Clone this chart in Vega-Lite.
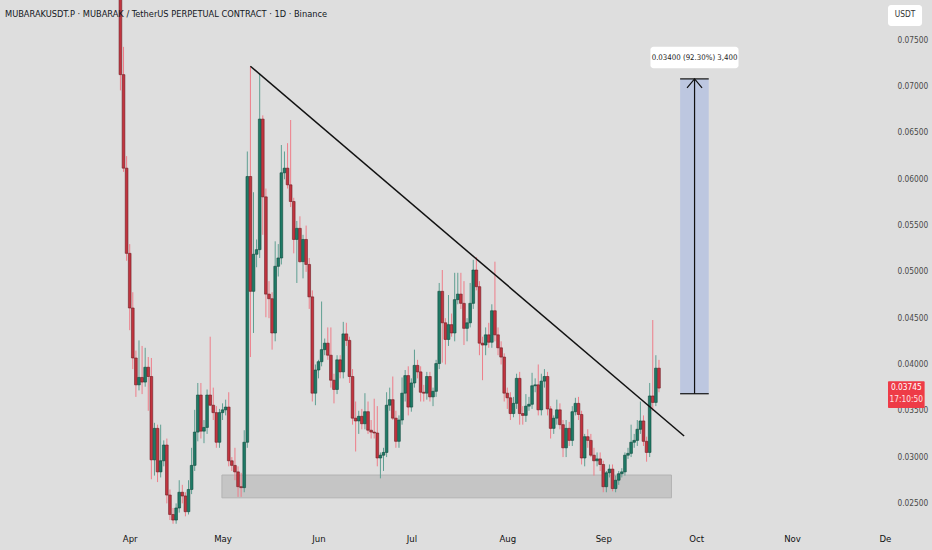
{
  "$schema": "https://vega.github.io/schema/vega-lite/v6.json",
  "width": 893,
  "height": 528,
  "autosize": "none",
  "padding": {"left": 0, "top": 0, "right": 39, "bottom": 22},
  "background": "#dedede",
  "config": {
    "view": {"stroke": null},
    "font": "DejaVu Sans Condensed, sans-serif"
  },
  "title": {
    "text": "MUBARAKUSDT.P · MUBARAK / TetherUS PERPETUAL CONTRACT · 1D · Binance",
    "anchor": "start",
    "frame": "group",
    "offset": -19,
    "dx": 5,
    "fontSize": 9.2,
    "fontWeight": "normal",
    "color": "#131722"
  },
  "datasets": {
    "candles": [
      {"d": "2025-03-29", "o": 0.0840, "h": 0.0890, "l": 0.0696, "c": 0.0713},
      {"d": "2025-03-30", "o": 0.0713, "h": 0.0743, "l": 0.0608, "c": 0.0612},
      {"d": "2025-03-31", "o": 0.0612, "h": 0.0625, "l": 0.0512, "c": 0.0520},
      {"d": "2025-04-01", "o": 0.0520, "h": 0.0530, "l": 0.0437, "c": 0.0461},
      {"d": "2025-04-02", "o": 0.0461, "h": 0.0478, "l": 0.0395, "c": 0.0407},
      {"d": "2025-04-03", "o": 0.0407, "h": 0.0415, "l": 0.0365, "c": 0.0378},
      {"d": "2025-04-04", "o": 0.0378, "h": 0.0426, "l": 0.0372, "c": 0.0386},
      {"d": "2025-04-05", "o": 0.0386, "h": 0.0420, "l": 0.0368, "c": 0.0381},
      {"d": "2025-04-06", "o": 0.0381, "h": 0.0418, "l": 0.0376, "c": 0.0397},
      {"d": "2025-04-07", "o": 0.0397, "h": 0.0408, "l": 0.0350, "c": 0.0387},
      {"d": "2025-04-08", "o": 0.0387, "h": 0.0407, "l": 0.0276, "c": 0.0297},
      {"d": "2025-04-09", "o": 0.0297, "h": 0.0337, "l": 0.0280, "c": 0.0331},
      {"d": "2025-04-10", "o": 0.0331, "h": 0.0335, "l": 0.0273, "c": 0.0284},
      {"d": "2025-04-11", "o": 0.0284, "h": 0.0335, "l": 0.0278, "c": 0.0296},
      {"d": "2025-04-12", "o": 0.0296, "h": 0.0318, "l": 0.0290, "c": 0.0313},
      {"d": "2025-04-13", "o": 0.0313, "h": 0.0320, "l": 0.0250, "c": 0.0259},
      {"d": "2025-04-14", "o": 0.0259, "h": 0.0265, "l": 0.0232, "c": 0.0238},
      {"d": "2025-04-15", "o": 0.0238, "h": 0.0245, "l": 0.0228, "c": 0.0232},
      {"d": "2025-04-16", "o": 0.0232, "h": 0.0250, "l": 0.0228, "c": 0.0245},
      {"d": "2025-04-17", "o": 0.0245, "h": 0.0275, "l": 0.0240, "c": 0.0262},
      {"d": "2025-04-18", "o": 0.0262, "h": 0.0270, "l": 0.0250, "c": 0.0258},
      {"d": "2025-04-19", "o": 0.0258, "h": 0.0262, "l": 0.0236, "c": 0.0241},
      {"d": "2025-04-20", "o": 0.0241, "h": 0.0275, "l": 0.0238, "c": 0.0265},
      {"d": "2025-04-21", "o": 0.0265, "h": 0.0310, "l": 0.0260, "c": 0.0291},
      {"d": "2025-04-22", "o": 0.0291, "h": 0.0351, "l": 0.0285, "c": 0.0327},
      {"d": "2025-04-23", "o": 0.0327, "h": 0.0380, "l": 0.0317, "c": 0.0367},
      {"d": "2025-04-24", "o": 0.0367, "h": 0.0380, "l": 0.0320, "c": 0.0328},
      {"d": "2025-04-25", "o": 0.0328, "h": 0.0340, "l": 0.0315, "c": 0.0332},
      {"d": "2025-04-26", "o": 0.0332, "h": 0.0373, "l": 0.0325, "c": 0.0367},
      {"d": "2025-04-27", "o": 0.0367, "h": 0.0430, "l": 0.0355, "c": 0.0356},
      {"d": "2025-04-28", "o": 0.0356, "h": 0.0375, "l": 0.0340, "c": 0.0348},
      {"d": "2025-04-29", "o": 0.0348, "h": 0.0355, "l": 0.0310, "c": 0.0316},
      {"d": "2025-04-30", "o": 0.0316, "h": 0.0352, "l": 0.0310, "c": 0.0348},
      {"d": "2025-05-01", "o": 0.0348, "h": 0.0358, "l": 0.0340, "c": 0.0351},
      {"d": "2025-05-02", "o": 0.0351, "h": 0.0362, "l": 0.0345, "c": 0.0354},
      {"d": "2025-05-03", "o": 0.0354, "h": 0.0370, "l": 0.0290, "c": 0.0296},
      {"d": "2025-05-04", "o": 0.0296, "h": 0.0300, "l": 0.0285, "c": 0.0291},
      {"d": "2025-05-05", "o": 0.0291, "h": 0.0310, "l": 0.0275, "c": 0.0284},
      {"d": "2025-05-06", "o": 0.0284, "h": 0.0290, "l": 0.0257, "c": 0.0268},
      {"d": "2025-05-07", "o": 0.0268, "h": 0.0283, "l": 0.0257, "c": 0.0267},
      {"d": "2025-05-08", "o": 0.0267, "h": 0.0329, "l": 0.0262, "c": 0.0316},
      {"d": "2025-05-09", "o": 0.0316, "h": 0.0630, "l": 0.0310, "c": 0.0603},
      {"d": "2025-05-10", "o": 0.0603, "h": 0.0722, "l": 0.0408, "c": 0.0479},
      {"d": "2025-05-11", "o": 0.0479, "h": 0.0586, "l": 0.0434, "c": 0.0519},
      {"d": "2025-05-12", "o": 0.0519, "h": 0.0535, "l": 0.0505, "c": 0.0524},
      {"d": "2025-05-13", "o": 0.0524, "h": 0.0714, "l": 0.0515, "c": 0.0665},
      {"d": "2025-05-14", "o": 0.0665, "h": 0.0669, "l": 0.0540, "c": 0.0581},
      {"d": "2025-05-15", "o": 0.0581, "h": 0.0590, "l": 0.0451, "c": 0.0476},
      {"d": "2025-05-16", "o": 0.0476, "h": 0.0490, "l": 0.0450, "c": 0.0471},
      {"d": "2025-05-17", "o": 0.0471, "h": 0.0478, "l": 0.0416, "c": 0.0434},
      {"d": "2025-05-18", "o": 0.0434, "h": 0.0533, "l": 0.0425, "c": 0.0506},
      {"d": "2025-05-19", "o": 0.0506, "h": 0.0530, "l": 0.0495, "c": 0.0515},
      {"d": "2025-05-20", "o": 0.0515, "h": 0.0637, "l": 0.0508, "c": 0.0607},
      {"d": "2025-05-21", "o": 0.0607, "h": 0.0630, "l": 0.0600, "c": 0.0612},
      {"d": "2025-05-22", "o": 0.0612, "h": 0.0639, "l": 0.0590, "c": 0.0594},
      {"d": "2025-05-23", "o": 0.0594, "h": 0.0664, "l": 0.0570, "c": 0.0576},
      {"d": "2025-05-24", "o": 0.0576, "h": 0.0580, "l": 0.0520, "c": 0.0535},
      {"d": "2025-05-25", "o": 0.0535, "h": 0.0555, "l": 0.0488, "c": 0.0547},
      {"d": "2025-05-26", "o": 0.0547, "h": 0.0560, "l": 0.0510, "c": 0.0511},
      {"d": "2025-05-27", "o": 0.0511, "h": 0.0540, "l": 0.0493, "c": 0.0535},
      {"d": "2025-05-28", "o": 0.0535, "h": 0.0550, "l": 0.0500, "c": 0.0508},
      {"d": "2025-05-29", "o": 0.0508, "h": 0.0515, "l": 0.0460, "c": 0.0473},
      {"d": "2025-05-30", "o": 0.0473, "h": 0.0480, "l": 0.0360, "c": 0.0369},
      {"d": "2025-05-31", "o": 0.0369, "h": 0.0400, "l": 0.0356, "c": 0.0394},
      {"d": "2025-06-01", "o": 0.0394, "h": 0.0405, "l": 0.0385, "c": 0.0403},
      {"d": "2025-06-02", "o": 0.0403, "h": 0.0468, "l": 0.0398, "c": 0.0416},
      {"d": "2025-06-03", "o": 0.0416, "h": 0.0428, "l": 0.0410, "c": 0.0423},
      {"d": "2025-06-04", "o": 0.0423, "h": 0.0440, "l": 0.0405, "c": 0.0410},
      {"d": "2025-06-05", "o": 0.0410, "h": 0.0440, "l": 0.0375, "c": 0.0383},
      {"d": "2025-06-06", "o": 0.0383, "h": 0.0390, "l": 0.0358, "c": 0.0373},
      {"d": "2025-06-07", "o": 0.0373, "h": 0.0410, "l": 0.0368, "c": 0.0405},
      {"d": "2025-06-08", "o": 0.0405, "h": 0.0410, "l": 0.0385, "c": 0.0392},
      {"d": "2025-06-09", "o": 0.0392, "h": 0.0446, "l": 0.0385, "c": 0.0433},
      {"d": "2025-06-10", "o": 0.0433, "h": 0.0445, "l": 0.0420, "c": 0.0426},
      {"d": "2025-06-11", "o": 0.0426, "h": 0.0430, "l": 0.0380, "c": 0.0387},
      {"d": "2025-06-12", "o": 0.0387, "h": 0.0395, "l": 0.0335, "c": 0.0342},
      {"d": "2025-06-13", "o": 0.0342, "h": 0.0360, "l": 0.0306, "c": 0.0339},
      {"d": "2025-06-14", "o": 0.0339, "h": 0.0350, "l": 0.0325, "c": 0.0344},
      {"d": "2025-06-15", "o": 0.0344, "h": 0.0352, "l": 0.0330, "c": 0.0336},
      {"d": "2025-06-16", "o": 0.0336, "h": 0.0369, "l": 0.0330, "c": 0.0349},
      {"d": "2025-06-17", "o": 0.0349, "h": 0.0360, "l": 0.0325, "c": 0.0329},
      {"d": "2025-06-18", "o": 0.0329, "h": 0.0340, "l": 0.0320, "c": 0.0327},
      {"d": "2025-06-19", "o": 0.0327, "h": 0.0363, "l": 0.0320, "c": 0.0326},
      {"d": "2025-06-20", "o": 0.0326, "h": 0.0355, "l": 0.0290, "c": 0.0299},
      {"d": "2025-06-21", "o": 0.0299, "h": 0.0305, "l": 0.0277, "c": 0.0302},
      {"d": "2025-06-22", "o": 0.0302, "h": 0.0310, "l": 0.0285, "c": 0.0305},
      {"d": "2025-06-23", "o": 0.0305, "h": 0.0370, "l": 0.0300, "c": 0.0356},
      {"d": "2025-06-24", "o": 0.0356, "h": 0.0375, "l": 0.0350, "c": 0.0362},
      {"d": "2025-06-25", "o": 0.0362, "h": 0.0387, "l": 0.0340, "c": 0.0342},
      {"d": "2025-06-26", "o": 0.0342, "h": 0.0350, "l": 0.0310, "c": 0.0317},
      {"d": "2025-06-27", "o": 0.0317, "h": 0.0345, "l": 0.0310, "c": 0.0340},
      {"d": "2025-06-28", "o": 0.0340, "h": 0.0386, "l": 0.0335, "c": 0.0369},
      {"d": "2025-06-29", "o": 0.0369, "h": 0.0394, "l": 0.0360, "c": 0.0388},
      {"d": "2025-06-30", "o": 0.0388, "h": 0.0398, "l": 0.0345, "c": 0.0354},
      {"d": "2025-07-01", "o": 0.0354, "h": 0.0385, "l": 0.0349, "c": 0.0380},
      {"d": "2025-07-02", "o": 0.0380, "h": 0.0416, "l": 0.0375, "c": 0.0399},
      {"d": "2025-07-03", "o": 0.0399, "h": 0.0405, "l": 0.0385, "c": 0.0392},
      {"d": "2025-07-04", "o": 0.0392, "h": 0.0398, "l": 0.0360, "c": 0.0370},
      {"d": "2025-07-05", "o": 0.0370, "h": 0.0378, "l": 0.0360, "c": 0.0369},
      {"d": "2025-07-06", "o": 0.0369, "h": 0.0392, "l": 0.0362, "c": 0.0387},
      {"d": "2025-07-07", "o": 0.0387, "h": 0.0392, "l": 0.0360, "c": 0.0365},
      {"d": "2025-07-08", "o": 0.0365, "h": 0.0375, "l": 0.0355, "c": 0.0371},
      {"d": "2025-07-09", "o": 0.0371, "h": 0.0405, "l": 0.0365, "c": 0.0401},
      {"d": "2025-07-10", "o": 0.0401, "h": 0.0488, "l": 0.0395, "c": 0.0479},
      {"d": "2025-07-11", "o": 0.0479, "h": 0.0502, "l": 0.0402, "c": 0.0445},
      {"d": "2025-07-12", "o": 0.0445, "h": 0.0450, "l": 0.0400, "c": 0.0427},
      {"d": "2025-07-13", "o": 0.0427, "h": 0.0475, "l": 0.0420, "c": 0.0443},
      {"d": "2025-07-14", "o": 0.0443, "h": 0.0455, "l": 0.0430, "c": 0.0434},
      {"d": "2025-07-15", "o": 0.0434, "h": 0.0499, "l": 0.0425, "c": 0.0470},
      {"d": "2025-07-16", "o": 0.0470, "h": 0.0499, "l": 0.0465, "c": 0.0476},
      {"d": "2025-07-17", "o": 0.0476, "h": 0.0499, "l": 0.0460, "c": 0.0466},
      {"d": "2025-07-18", "o": 0.0466, "h": 0.0490, "l": 0.0421, "c": 0.0439},
      {"d": "2025-07-19", "o": 0.0439, "h": 0.0450, "l": 0.0425, "c": 0.0445},
      {"d": "2025-07-20", "o": 0.0445, "h": 0.0488, "l": 0.0440, "c": 0.0466},
      {"d": "2025-07-21", "o": 0.0466, "h": 0.0513, "l": 0.0460, "c": 0.0502},
      {"d": "2025-07-22", "o": 0.0502, "h": 0.0516, "l": 0.0480, "c": 0.0484},
      {"d": "2025-07-23", "o": 0.0484, "h": 0.0490, "l": 0.0410, "c": 0.0423},
      {"d": "2025-07-24", "o": 0.0423, "h": 0.0430, "l": 0.0383, "c": 0.0421},
      {"d": "2025-07-25", "o": 0.0421, "h": 0.0440, "l": 0.0410, "c": 0.0432},
      {"d": "2025-07-26", "o": 0.0432, "h": 0.0445, "l": 0.0418, "c": 0.0424},
      {"d": "2025-07-27", "o": 0.0424, "h": 0.0465, "l": 0.0418, "c": 0.0458},
      {"d": "2025-07-28", "o": 0.0458, "h": 0.0511, "l": 0.0425, "c": 0.0432},
      {"d": "2025-07-29", "o": 0.0432, "h": 0.0440, "l": 0.0410, "c": 0.0418},
      {"d": "2025-07-30", "o": 0.0418, "h": 0.0425, "l": 0.0400, "c": 0.0408},
      {"d": "2025-07-31", "o": 0.0408, "h": 0.0412, "l": 0.0360, "c": 0.0369},
      {"d": "2025-08-01", "o": 0.0369, "h": 0.0375, "l": 0.0352, "c": 0.0364},
      {"d": "2025-08-02", "o": 0.0364, "h": 0.0370, "l": 0.0340, "c": 0.0347},
      {"d": "2025-08-03", "o": 0.0347, "h": 0.0365, "l": 0.0343, "c": 0.0358},
      {"d": "2025-08-04", "o": 0.0358, "h": 0.0390, "l": 0.0352, "c": 0.0385},
      {"d": "2025-08-05", "o": 0.0385, "h": 0.0392, "l": 0.0335, "c": 0.0347},
      {"d": "2025-08-06", "o": 0.0347, "h": 0.0355, "l": 0.0335, "c": 0.0345},
      {"d": "2025-08-07", "o": 0.0345, "h": 0.0368, "l": 0.0338, "c": 0.0355},
      {"d": "2025-08-08", "o": 0.0355, "h": 0.0365, "l": 0.0350, "c": 0.0357},
      {"d": "2025-08-09", "o": 0.0357, "h": 0.0391, "l": 0.0352, "c": 0.0377},
      {"d": "2025-08-10", "o": 0.0377, "h": 0.0385, "l": 0.0370, "c": 0.0378},
      {"d": "2025-08-11", "o": 0.0378, "h": 0.0400, "l": 0.0345, "c": 0.0351},
      {"d": "2025-08-12", "o": 0.0351, "h": 0.0390, "l": 0.0345, "c": 0.0382},
      {"d": "2025-08-13", "o": 0.0382, "h": 0.0395, "l": 0.0375, "c": 0.0387},
      {"d": "2025-08-14", "o": 0.0387, "h": 0.0392, "l": 0.0345, "c": 0.0352},
      {"d": "2025-08-15", "o": 0.0352, "h": 0.0355, "l": 0.0320, "c": 0.0331},
      {"d": "2025-08-16", "o": 0.0331, "h": 0.0345, "l": 0.0325, "c": 0.0342},
      {"d": "2025-08-17", "o": 0.0342, "h": 0.0362, "l": 0.0335, "c": 0.0351},
      {"d": "2025-08-18", "o": 0.0351, "h": 0.0358, "l": 0.0330, "c": 0.0335},
      {"d": "2025-08-19", "o": 0.0335, "h": 0.0340, "l": 0.0300, "c": 0.0310},
      {"d": "2025-08-20", "o": 0.0310, "h": 0.0340, "l": 0.0300, "c": 0.0331},
      {"d": "2025-08-21", "o": 0.0331, "h": 0.0338, "l": 0.0312, "c": 0.0318},
      {"d": "2025-08-22", "o": 0.0318, "h": 0.0355, "l": 0.0312, "c": 0.0349},
      {"d": "2025-08-23", "o": 0.0349, "h": 0.0364, "l": 0.0345, "c": 0.0358},
      {"d": "2025-08-24", "o": 0.0358, "h": 0.0365, "l": 0.0340, "c": 0.0346},
      {"d": "2025-08-25", "o": 0.0346, "h": 0.0350, "l": 0.0292, "c": 0.0299},
      {"d": "2025-08-26", "o": 0.0299, "h": 0.0325, "l": 0.0290, "c": 0.0322},
      {"d": "2025-08-27", "o": 0.0322, "h": 0.0330, "l": 0.0310, "c": 0.0318},
      {"d": "2025-08-28", "o": 0.0318, "h": 0.0325, "l": 0.0300, "c": 0.0302},
      {"d": "2025-08-29", "o": 0.0302, "h": 0.0310, "l": 0.0280, "c": 0.0296},
      {"d": "2025-08-30", "o": 0.0296, "h": 0.0305, "l": 0.0290, "c": 0.0298},
      {"d": "2025-08-31", "o": 0.0298, "h": 0.0305, "l": 0.0285, "c": 0.0292},
      {"d": "2025-09-01", "o": 0.0292, "h": 0.0296, "l": 0.0262, "c": 0.0268},
      {"d": "2025-09-02", "o": 0.0268, "h": 0.0285, "l": 0.0262, "c": 0.0283},
      {"d": "2025-09-03", "o": 0.0283, "h": 0.0292, "l": 0.0278, "c": 0.0287},
      {"d": "2025-09-04", "o": 0.0287, "h": 0.0292, "l": 0.0263, "c": 0.0266},
      {"d": "2025-09-05", "o": 0.0266, "h": 0.0280, "l": 0.0262, "c": 0.0275},
      {"d": "2025-09-06", "o": 0.0275, "h": 0.0285, "l": 0.0270, "c": 0.0282},
      {"d": "2025-09-07", "o": 0.0282, "h": 0.0288, "l": 0.0278, "c": 0.0284},
      {"d": "2025-09-08", "o": 0.0284, "h": 0.0305, "l": 0.0280, "c": 0.0302},
      {"d": "2025-09-09", "o": 0.0302, "h": 0.0310, "l": 0.0298, "c": 0.0304},
      {"d": "2025-09-10", "o": 0.0304, "h": 0.0335, "l": 0.0300, "c": 0.0316},
      {"d": "2025-09-11", "o": 0.0316, "h": 0.0325, "l": 0.0310, "c": 0.0318},
      {"d": "2025-09-12", "o": 0.0318, "h": 0.0340, "l": 0.0312, "c": 0.0330},
      {"d": "2025-09-13", "o": 0.0330, "h": 0.0360, "l": 0.0325, "c": 0.0339},
      {"d": "2025-09-14", "o": 0.0339, "h": 0.0345, "l": 0.0312, "c": 0.0317},
      {"d": "2025-09-15", "o": 0.0317, "h": 0.0322, "l": 0.0295, "c": 0.0305},
      {"d": "2025-09-16", "o": 0.0305, "h": 0.0380, "l": 0.0300, "c": 0.0366},
      {"d": "2025-09-17", "o": 0.0366, "h": 0.0448, "l": 0.0350, "c": 0.0359},
      {"d": "2025-09-18", "o": 0.0359, "h": 0.0410, "l": 0.0355, "c": 0.0396},
      {"d": "2025-09-19", "o": 0.0396, "h": 0.0405, "l": 0.0370, "c": 0.03745}
    ],
    "support": [
      {"d": "2025-04-30T19:00:00Z", "d2": "2025-09-23T01:00:00Z", "lo": 0.0256, "hi": 0.02806}
    ],
    "trend": [
      {"d": "2025-05-10T00:00:00Z", "p": 0.0722},
      {"d": "2025-09-27T03:00:00Z", "p": 0.03227}
    ],
    "target": [
      {"d": "2025-09-25T20:00:00Z", "d2": "2025-10-05T02:00:00Z", "mid": "2025-09-30T12:00:00Z", "lo": 0.03684, "hi": 0.07084}
    ],
    "label": [
      {"d": "2025-09-16T06:00:00Z", "d2": "2025-10-14T17:00:00Z", "mid": "2025-09-30T12:00:00Z", "lo": 0.07198, "hi": 0.07432, "p": 0.07315, "t": "0.03400 (92.30%) 3,400"}
    ],
    "tag": [
      {"d": "2025-12-02T00:00:00Z", "d2": "2025-12-13T20:00:00Z", "mid": "2025-12-07T22:00:00Z", "lo": 0.0353, "hi": 0.0382, "p1": 0.03745, "p2": 0.03616, "t1": "0.03745", "t2": "17:10:50"}
    ],
    "unit": [
      {"d": "2025-12-02T00:00:00Z", "d2": "2025-12-13T00:00:00Z", "mid": "2025-12-07T12:00:00Z", "lo": 0.07655, "hi": 0.07882, "p": 0.07769, "t": "USDT"}
    ]
  },
  "layer": [
    {
      "data": {"name": "support"},
      "mark": {"type": "rect", "fill": "#c5c5c5", "stroke": "#b3b3b3", "strokeWidth": 1},
      "encoding": {
        "x": {
          "field": "d", "type": "temporal",
          "scale": {"type": "utc", "domain": [1739984400000, 1764633600000]},
          "axis": {
            "title": null, "grid": false, "ticks": false, "domain": false,
            "values": [1743465600000, 1746057600000, 1748736000000, 1751328000000, 1754006400000, 1756684800000, 1759276800000, 1761955200000, 1764547200000],
            "labelExpr": "utcmonth(datum.value) === 11 ? 'De' : utcFormat(datum.value, '%b')",
            "labelPadding": 5, "labelFontSize": 9.5, "labelColor": "#111111",
            "labelOverlap": false, "labelFlush": false
          }
        },
        "x2": {"field": "d2"},
        "y": {
          "field": "lo", "type": "quantitative",
          "scale": {"domain": [0.02234, 0.07936], "zero": false, "nice": false},
          "axis": {
            "orient": "right", "title": null, "grid": false, "ticks": false, "domain": false,
            "values": [0.025, 0.03, 0.035, 0.04, 0.045, 0.05, 0.055, 0.06, 0.065, 0.07, 0.075],
            "format": ".5f", "labelAlign": "left", "labelPadding": 4,
            "labelFontSize": 8.3, "labelColor": "#4a4a4a"
          }
        },
        "y2": {"field": "hi"}
      }
    },
    {
      "data": {"name": "candles"},
      "mark": {"type": "rule", "strokeWidth": 1, "clip": true},
      "encoding": {
        "x": {"field": "d", "type": "temporal", "scale": {"type": "utc", "domain": [1739984400000, 1764633600000]}},
        "y": {"field": "l", "type": "quantitative", "scale": {"domain": [0.02234, 0.07936], "zero": false, "nice": false}},
        "y2": {"field": "h"},
        "color": {"condition": {"test": "datum.c >= datum.o", "value": "#5f9f92"}, "value": "#ee7d89"}
      }
    },
    {
      "data": {"name": "candles"},
      "mark": {"type": "bar", "width": 2.7, "clip": true, "strokeWidth": 0.6},
      "encoding": {
        "x": {"field": "d", "type": "temporal", "scale": {"type": "utc", "domain": [1739984400000, 1764633600000]}},
        "y": {"field": "o", "type": "quantitative", "scale": {"domain": [0.02234, 0.07936], "zero": false, "nice": false}},
        "y2": {"field": "c"},
        "fill": {"condition": {"test": "datum.c >= datum.o", "value": "#1f7a66"}, "value": "#c2343f"},
        "stroke": {"condition": {"test": "datum.c >= datum.o", "value": "#0f4a3d"}, "value": "#6e1c23"}
      }
    },
    {
      "data": {"name": "trend"},
      "mark": {"type": "line", "color": "#111111", "strokeWidth": 1.5},
      "encoding": {
        "x": {"field": "d", "type": "temporal", "scale": {"type": "utc", "domain": [1739984400000, 1764633600000]}},
        "y": {"field": "p", "type": "quantitative", "scale": {"domain": [0.02234, 0.07936], "zero": false, "nice": false}}
      }
    },
    {
      "data": {"name": "target"},
      "mark": {"type": "rect", "fill": "#bdc7e0"},
      "encoding": {
        "x": {"field": "d", "type": "temporal", "scale": {"type": "utc", "domain": [1739984400000, 1764633600000]}},
        "x2": {"field": "d2"},
        "y": {"field": "lo", "type": "quantitative", "scale": {"domain": [0.02234, 0.07936], "zero": false, "nice": false}},
        "y2": {"field": "hi"}
      }
    },
    {
      "data": {"name": "target"},
      "mark": {"type": "rule", "color": "#111111", "strokeWidth": 1.2},
      "encoding": {
        "x": {"field": "d", "type": "temporal"},
        "x2": {"field": "d2"},
        "y": {"field": "lo", "type": "quantitative"}
      }
    },
    {
      "data": {"name": "target"},
      "mark": {"type": "rule", "color": "#111111", "strokeWidth": 1.2},
      "encoding": {
        "x": {"field": "d", "type": "temporal"},
        "x2": {"field": "d2"},
        "y": {"field": "hi", "type": "quantitative"}
      }
    },
    {
      "data": {"name": "target"},
      "mark": {"type": "rule", "color": "#111111", "strokeWidth": 1.2},
      "encoding": {
        "x": {"field": "mid", "type": "temporal"},
        "y": {"field": "lo", "type": "quantitative"},
        "y2": {"field": "hi"}
      }
    },
    {
      "data": {"name": "target"},
      "mark": {"type": "point", "shape": "M-1,0.6L0,-0.6L1,0.6", "size": 225, "filled": false, "stroke": "#111111", "strokeWidth": 1.2, "opacity": 1, "yOffset": 4.5},
      "encoding": {
        "x": {"field": "mid", "type": "temporal"},
        "y": {"field": "hi", "type": "quantitative"}
      }
    },
    {
      "data": {"name": "label"},
      "mark": {"type": "rect", "fill": "#ffffff", "cornerRadius": 3},
      "encoding": {
        "x": {"field": "d", "type": "temporal"},
        "x2": {"field": "d2"},
        "y": {"field": "lo", "type": "quantitative"},
        "y2": {"field": "hi"}
      }
    },
    {
      "data": {"name": "label"},
      "mark": {"type": "text", "fontSize": 7.8, "color": "#1a1a1a", "align": "center", "baseline": "middle"},
      "encoding": {
        "x": {"field": "mid", "type": "temporal"},
        "y": {"field": "p", "type": "quantitative"},
        "text": {"field": "t"}
      }
    },
    {
      "data": {"name": "tag"},
      "mark": {"type": "rect", "fill": "#ee3b47", "cornerRadius": 1},
      "encoding": {
        "x": {"field": "d", "type": "temporal"},
        "x2": {"field": "d2"},
        "y": {"field": "lo", "type": "quantitative"},
        "y2": {"field": "hi"}
      }
    },
    {
      "data": {"name": "tag"},
      "mark": {"type": "text", "fontSize": 8.3, "color": "#ffffff", "align": "center", "baseline": "middle"},
      "encoding": {
        "x": {"field": "mid", "type": "temporal"},
        "y": {"field": "p1", "type": "quantitative"},
        "text": {"field": "t1"}
      }
    },
    {
      "data": {"name": "tag"},
      "mark": {"type": "text", "fontSize": 8.3, "color": "#ffe3e5", "align": "center", "baseline": "middle"},
      "encoding": {
        "x": {"field": "mid", "type": "temporal"},
        "y": {"field": "p2", "type": "quantitative"},
        "text": {"field": "t2"}
      }
    },
    {
      "data": {"name": "unit"},
      "mark": {"type": "rect", "fill": "#ffffff", "cornerRadius": 3},
      "encoding": {
        "x": {"field": "d", "type": "temporal"},
        "x2": {"field": "d2"},
        "y": {"field": "lo", "type": "quantitative"},
        "y2": {"field": "hi"}
      }
    },
    {
      "data": {"name": "unit"},
      "mark": {"type": "text", "fontSize": 8.3, "color": "#333333", "align": "center", "baseline": "middle"},
      "encoding": {
        "x": {"field": "mid", "type": "temporal"},
        "y": {"field": "p", "type": "quantitative"},
        "text": {"field": "t"}
      }
    }
  ]
}
